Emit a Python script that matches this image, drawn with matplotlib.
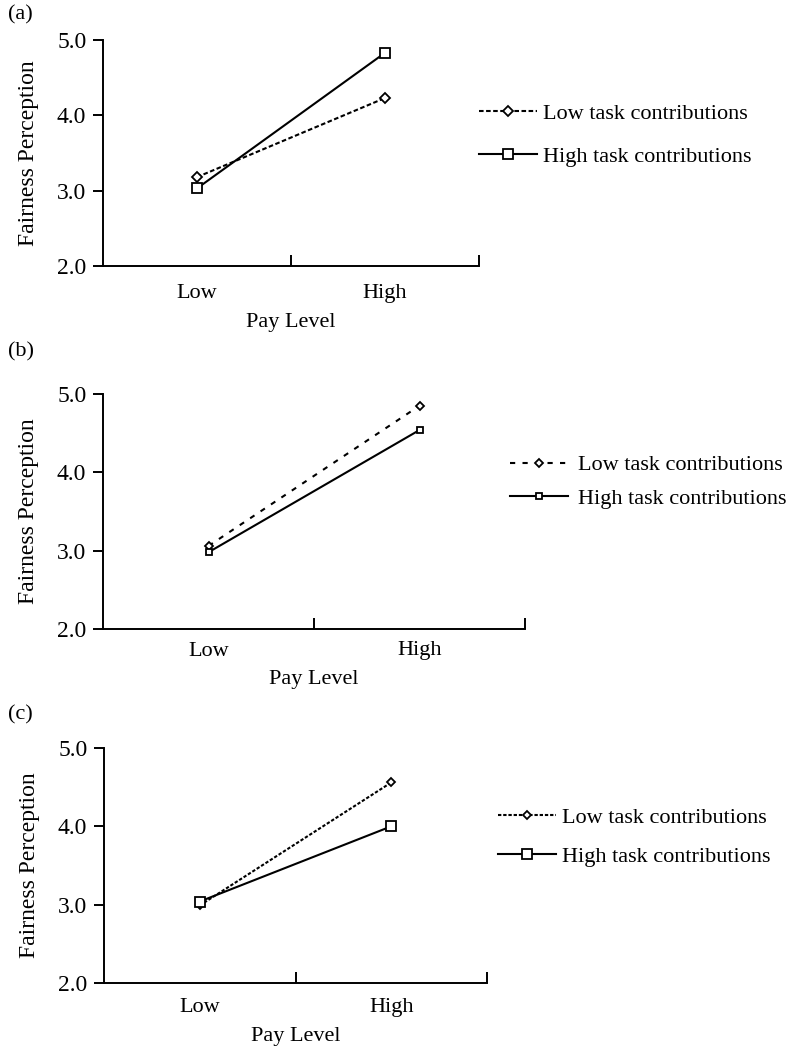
import matplotlib
matplotlib.use("Agg")
import matplotlib.pyplot as plt

# --- DATA ---
pay_levels = ["Low", "High"]
series_names = ["Low task contributions", "High task contributions"]
yticks = [2.0, 3.0, 4.0, 5.0]
panel_tags = ["(a)", "(b)", "(c)"]

low_contrib_a = [3.18, 4.23]
high_contrib_a = [3.03, 4.83]
low_contrib_b = [3.06, 4.85]
high_contrib_b = [2.98, 4.54]
low_contrib_c = [2.99, 4.56]
high_contrib_c = [3.04, 4.00]

plt.rcParams['font.family'] = ['Liberation Serif', 'DejaVu Serif']
plt.rcParams['font.size'] = 16

W, H = 791, 1050
fig = plt.figure(figsize=(W / 100, H / 100), dpi=100)


def px_axes(left, right, top, bottom):
    return fig.add_axes([left / W, 1 - bottom / H, (right - left) / W, (bottom - top) / H])


# per-panel layout: axes box, legend anchor, dash styles, marker sizes
panels = [
    dict(box=(103, 479, 40, 266), tag_y=15, low=low_contrib_a, high=high_contrib_a,
         dash=(0, (2.2, 1.2)), dms=4.6, sms=7.0, leg=(479, 135), spacing=1.0,
         xpad=13, textpad=0.3),
    dict(box=(103, 525, 394, 629), tag_y=352, low=low_contrib_b, high=high_contrib_b,
         dash=(0, (2.5, 3.5)), dms=3.8, sms=4.4, leg=(510, 482), spacing=0.6,
         xpad=9, textpad=0.45),
    dict(box=(104, 487, 748, 983), tag_y=715, low=low_contrib_c, high=high_contrib_c,
         dash=(0, (1.6, 0.9)), dms=4.0, sms=7.0, leg=(498, 837), spacing=0.85,
         xpad=11, textpad=0.3),
]

for tag, p in zip(panel_tags, panels):
    ax = px_axes(*p["box"])
    x = range(len(pay_levels))
    ax.plot(x, p["low"], color='black', lw=1.5, linestyle=p["dash"], marker='D',
            ms=p["dms"], mfc='white', mec='black', mew=1.3, label=series_names[0], zorder=3)
    ax.plot(x, p["high"], color='black', lw=1.5, linestyle='-', marker='s',
            ms=p["sms"], mfc='white', mec='black', mew=1.3, label=series_names[1], zorder=3)

    ax.set_xlim(-0.5, len(pay_levels) - 0.5)
    ax.set_ylim(2.0, 5.0)
    ax.set_yticks(yticks)
    ax.set_yticklabels([f"{v:.1f}" for v in yticks])
    ax.tick_params(axis='y', direction='out', length=7, width=1.4, pad=5, labelsize=17)

    # boundary ticks on the category axis, labels in the middle of each band
    ax.set_xticks([0.5, 1.5])
    ax.set_xticklabels([])
    ax.tick_params(axis='x', which='major', direction='in', length=8, width=1.4)
    ax.set_xticks(list(x), minor=True)
    ax.set_xticklabels(pay_levels, minor=True)
    ax.tick_params(axis='x', which='minor', length=0, pad=p["xpad"], labelsize=16)

    for side in ['top', 'right']:
        ax.spines[side].set_visible(False)
    for side in ['left', 'bottom']:
        ax.spines[side].set_linewidth(1.4)

    ax.set_xlabel("Pay Level", fontsize=16, labelpad=7)
    ax.set_ylabel("Fairness Perception", fontsize=17, labelpad=13)

    fig.text(8 / W, 1 - p["tag_y"] / H, tag, fontsize=16, va='center', ha='left')

    lx, ly = p["leg"]
    ax.legend(loc='center left', bbox_to_anchor=(lx / W, 1 - ly / H),
              bbox_transform=fig.transFigure, frameon=False, fontsize=16,
              handlelength=2.6, handletextpad=p["textpad"], borderpad=0, borderaxespad=0,
              labelspacing=p["spacing"])

fig.savefig("out.png", dpi=100)
